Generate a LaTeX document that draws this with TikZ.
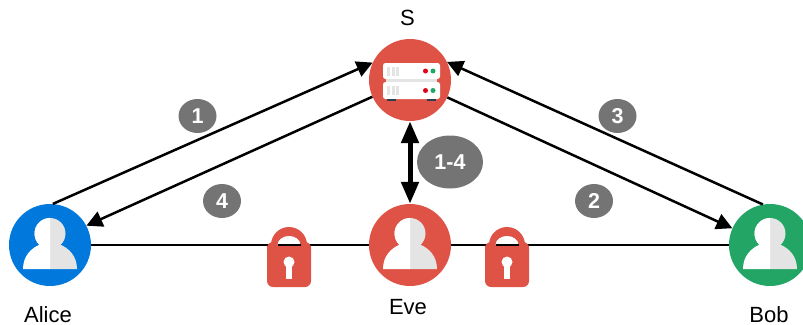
\documentclass[tikz,border=0pt]{standalone}
\usepackage{fontspec}
\setmainfont{Liberation Sans}
\usetikzlibrary{arrows.meta,shapes.geometric}
\definecolor{cred}{HTML}{DF5347}
\definecolor{cblue}{HTML}{0078DC}
\definecolor{cgreen}{HTML}{22A565}
\definecolor{cgrey}{HTML}{747474}
\definecolor{cpale}{HTML}{E4E4E4}
\definecolor{cdark}{HTML}{2C3E50}
\definecolor{cdot}{HTML}{E0001A}
\tikzset{
  disc/.style={circle,inner sep=0pt,minimum size=82pt,fill=#1},
  lbl/.style={inner sep=0pt,font=\fontsize{22pt}{24pt}\selectfont,text=black},
  badge/.style={ellipse,inner sep=0pt,fill=cgrey,text=white,minimum width=38pt,minimum height=34pt,font=\fontsize{21.5pt}{24pt}\selectfont\bfseries},
  conn/.style={draw=black,line width=2.5pt,-{Triangle[length=16pt,width=16pt]}},
  plain/.style={draw=black,line width=2.5pt},
  thick arrow/.style={draw=black,line width=5pt,{Triangle[length=22pt,width=17pt]}-{Triangle[length=22pt,width=17pt]}},
  person/.pic={
    \fill[cpale] (0,-11.5) circle (15.5);
    \fill[cpale] (0,-4) rectangle (9,2);
    \fill[cpale] (27,24) .. controls (27,11) and (19,3) .. (9,-1) -- (0,-1) -- (0,24) -- cycle;
    \begin{scope}
      \clip (-30,-45) rectangle (0,30);
      \fill[white] (0,-11.5) circle (15.5);
    \end{scope}
    \fill[white] (-9,-4) rectangle (0,2);
    \fill[white] (-27,24) .. controls (-27,11) and (-19,3) .. (-9,-1) -- (0,-1) -- (0,24) -- cycle;
  },
  padlock/.pic={
    \fill[cred] (-18,0) arc[start angle=180,end angle=360,radius=18] -- (11.5,0) arc[start angle=0,end angle=-180,x radius=11.5,y radius=9] -- cycle;
    \fill[cred,rounded corners=6pt] (-22,-3) rectangle (22,42);
    \fill[white] (-11.5,0.2) arc[start angle=180,end angle=360,x radius=11.5,y radius=9] -- cycle;
    \draw[black,line width=2.5pt] (-11.5,0) -- (11.5,0);
    \fill[cred] (-22,1.2) rectangle (22,8);
    \fill[white] (0,17) circle (5.5);
    \fill[white] (-2.6,17) rectangle (2.6,34);
  }
}
\begin{document}
\begin{tikzpicture}[x=1pt,y=-1pt]
\useasboundingbox (0,0) rectangle (803,324);
\begin{scope}
\clip (0,0) rectangle (803,324);
\node[disc=cblue]  (alice) at (50,245) {};
\node[disc=cred]   (eve)   at (410,245) {};
\node[disc=cgreen] (bob)   at (770,245) {};
\node[disc=cred]   (srv)   at (410,80) {};
\pic at (50,245) {person};
\pic at (410,245) {person};
\pic at (770,245) {person};
\end{scope}
\fill[white,rounded corners=2.5pt] (383,63) rectangle (440,79);
\fill[white,rounded corners=2.5pt] (383,82) rectangle (440,99);
\fill[cpale] (386,79) rectangle (437,82);
\foreach \yy/\hh in {67/9, 86/9}{
  \fill[cpale] (387,\yy) rectangle ++(3,\hh);
  \fill[cpale] (392,\yy) rectangle ++(3,\hh);
  \fill[cpale] (396,\yy) rectangle ++(3,\hh);
}
\fill[cdot] (425.5,71) circle (2.5);
\fill[cgreen] (433,71) circle (2.5);
\fill[cdot] (425.5,90.5) circle (2.5);
\fill[cgreen] (433,90.5) circle (2.5);
\fill[cdark] (387,99) rectangle (396,101);
\fill[cdark] (427,99) rectangle (436,101);

\draw[conn] (alice.86) -- (srv.155);
\draw[conn] (srv.204) -- (alice.28);
\draw[conn] (bob.100) -- (srv.26);
\draw[conn] (srv.-25) -- (bob.156);
\draw[thick arrow] (srv.south) -- (eve.north);
\draw[plain] (alice.east) -- (eve.west);
\draw[plain] (eve.east) -- (bob.west);

\pic at (289,245) {padlock};
\pic at (507,245) {padlock};

\node[lbl] (ls) at (407.5,18) {S};
\node[lbl] (la) at (48,314.5) {Alice};
\node[lbl] (le) at (408,307) {Eve};
\node[lbl] (lb) at (769,314.5) {Bob};
\node[badge] (b1) at (197.5,116) {1};
\node[badge] (b4) at (222,201) {4};
\node[badge] (b2) at (594,201) {2};
\node[badge] (b3) at (617.5,116) {3};
\node[ellipse,inner sep=0pt,fill=cgrey,text=white,minimum width=66pt,minimum height=53pt,font=\fontsize{21.5pt}{24pt}\selectfont\bfseries] (b14) at (450,162) {1-4};
\end{tikzpicture}
\end{document}
